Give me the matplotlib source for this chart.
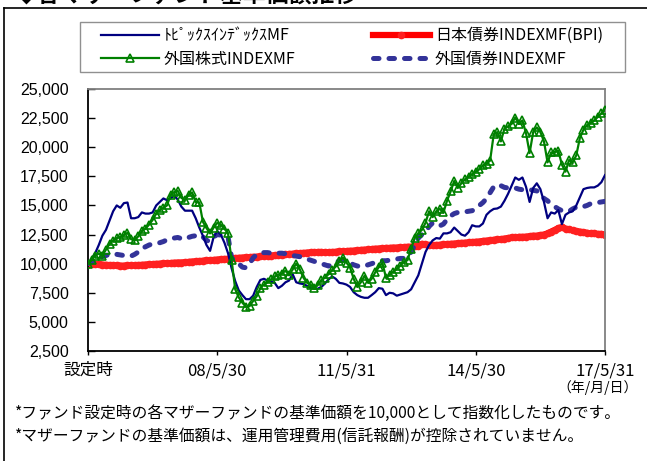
import matplotlib
matplotlib.use("Agg")
import matplotlib.pyplot as plt
from matplotlib.lines import Line2D
from matplotlib.patches import Rectangle
import numpy as np

plt.rcParams['font.family'] = ['Noto Sans CJK JP', 'DejaVu Sans']

# monthly index from inception (設定時) to 17/5/31
tick_pos = [0, 36, 72, 108, 144]
tick_labels = ['設定時', '08/5/30', '11/5/31', '14/5/30', '17/5/31']
y_ticks = [2500, 5000, 7500, 10000, 12500, 15000, 17500, 20000, 22500, 25000]

names = ['ﾄﾋﾟｯｸｽｲﾝﾃﾞｯｸｽMF', '外国株式INDEXMF', '日本債券INDEXMF(BPI)', '外国債券INDEXMF']

topix = [
    10000, 10400, 10900, 11600, 12400, 12900, 13700, 14500, 15000, 14800,
    15200, 15250, 13900, 13900, 14000, 14400, 14300, 14300, 14400, 15000,
    15300, 15600, 15450, 15600, 15850, 15500, 14900, 14550, 14550, 14550,
    13900, 13100, 12400, 11600, 11100, 12300, 12800, 12500, 11800, 10900,
    9600, 8500, 7700, 7300, 6950, 6950, 7250, 8000, 8600, 8700,
    8550, 8450, 8350, 7900, 8100, 8400, 8550, 9100, 8400, 8300,
    8250, 8100, 7900, 7850, 7850, 8000, 8300, 8650, 8900, 8700,
    8350, 8300, 8200, 8000, 7550, 7300, 7150, 7070, 7070, 7300,
    7550, 7900, 7850, 7300, 7500, 7450, 7250, 7350, 7450, 7550,
    7800, 8400, 9000, 10000, 11000, 11600, 12000, 12200, 12150, 12600,
    12600, 12700, 13100, 12800, 12500, 12400, 12700, 13300, 13200, 13200,
    13450, 14200, 14500, 14700, 14740, 14900, 15400, 16000, 16700, 17400,
    17200, 17400, 16600, 15300, 16500, 16900, 16400, 15300, 13900, 14400,
    14300, 14600, 13400, 14200, 14400, 14500, 15000, 15700, 16400, 16500,
    16550, 16550, 16700, 17000, 17600,
]

foreign_stock = [
    10000, 10300, 10700, 10860, 10700, 11200, 11700, 11980, 12200, 12300,
    12450, 12650, 12100, 12000, 12350, 12800, 13000, 13350, 13750, 14300,
    14600, 14800, 15000, 15900, 16150, 16250, 15650, 15450, 15900, 16120,
    15300, 15260, 13600, 13050, 12600, 13100, 13500, 13350, 13000, 12600,
    10300, 7800, 7100, 6650, 6300, 6350, 6800, 7200, 7900, 8200,
    8400, 8650, 8900, 9050, 9150, 9400, 9000, 9500, 10000, 9500,
    8800, 8360, 8200, 7900, 8150, 8600, 8790, 9100, 9450, 9750,
    10200, 10520, 10100, 9660, 8700, 8000, 8400, 8950, 8360, 8700,
    9250, 9700, 10050, 8800, 9050, 9300, 9550, 9830, 10150, 10300,
    11300, 12200, 12600, 12900, 13500, 14500, 14000, 14500, 14700, 14400,
    15400, 16200, 17100, 16500, 16900, 17250, 17450, 17700, 17900, 18100,
    18450, 18600, 18850, 21100, 21300, 20500, 21600, 21800, 22000, 22550,
    22000, 22300, 21200, 19500, 21300, 21700, 21300, 20500, 18700, 19550,
    19600, 19700, 18500, 17900, 18900, 18700, 19300, 20800, 21500, 21900,
    22100, 22300, 22600, 22900, 23200,
]

japan_bond = [
    10000, 9980, 9950, 9950, 9920, 9900, 9880, 9850, 9850, 9830,
    9830, 9850, 9850, 9870, 9880, 9900, 9920, 9950, 9950, 9980,
    10000, 10020, 10050, 10050, 10080, 10100, 10100, 10120, 10150, 10180,
    10200, 10220, 10250, 10280, 10300, 10320, 10350, 10380, 10400, 10420,
    10450, 10480, 10500, 10520, 10550, 10560, 10580, 10600, 10620, 10650,
    10680, 10700, 10720, 10750, 10780, 10800, 10830, 10850, 10880, 10900,
    10920, 10950, 10970, 10980, 11000, 11000, 10980, 10980, 11000, 11020,
    11050, 11050, 11080, 11100, 11120, 11150, 11180, 11200, 11220, 11250,
    11280, 11300, 11320, 11350, 11350, 11380, 11380, 11400, 11420, 11450,
    11450, 11500, 11550, 11700, 11650, 11600, 11580, 11600, 11620, 11650,
    11680, 11700, 11720, 11750, 11780, 11800, 11820, 11850, 11880, 11900,
    11950, 11980, 12000, 12050, 12080, 12100, 12150, 12200, 12250, 12250,
    12300, 12300, 12320, 12350, 12400, 12400, 12450, 12500, 12600, 12750,
    12900, 13050, 13150, 13000, 12950, 12850, 12800, 12750, 12700, 12650,
    12600, 12600, 12550, 12550, 12500,
]

foreign_bond = [
    10000, 10150, 10300, 10450, 10600, 10700, 10800, 10850, 10800, 10750,
    10700, 10650, 10650, 10800, 11000, 11300, 11450, 11600, 11700, 11750,
    11800, 11900, 12050, 12150, 12200, 12250, 12150, 12100, 12250, 12350,
    12400, 12500, 12300, 12000, 11900, 12300, 12500, 12450, 12400, 12300,
    10500, 10200, 10000, 9700, 9650, 10000, 10500, 10800, 10900, 10950,
    10950, 10900, 10850, 10900, 10900, 10850, 10750, 10700, 10650, 10600,
    10500, 10400, 10300, 10200, 10100, 10000, 9900, 9800, 9900, 10100,
    10250, 10300, 10200, 10050, 9900, 9800, 9750, 9800, 9900, 10000,
    10100, 10200, 10250, 10250, 10300, 10350, 10400, 10450, 10450, 10600,
    11000, 11600, 12200, 12500, 12700, 13200, 13500, 13400, 13250, 13400,
    13800, 14100, 14300, 14400, 14450, 14450, 14500, 14550, 14700, 15000,
    15250, 15600, 16100, 16600, 16800, 16700, 16550, 16500, 16550, 16500,
    16400, 16350, 16400, 16350, 16300, 16250, 16000, 15600, 15400, 15100,
    14900, 14700, 14550, 14500, 14500, 14700, 14850, 14800, 14900, 15000,
    15150, 15200, 15250, 15300, 15350,
]

W, H = 647, 461
fig = plt.figure(figsize=(W / 100, H / 100), dpi=100)

# plot area in pixels: x 88..605, y 89..351
ax = fig.add_axes([88 / W, 1 - 351 / H, (605 - 88) / W, (351 - 89) / H])
x = np.arange(len(topix))

ax.plot(x, japan_bond, color='#ff0000', lw=4.5, marker='o', ms=4.5,
        mec='#ff2020', mfc='#ff2020', label=names[2], zorder=2)
ax.plot(x, foreign_bond, color='#333399', lw=3.6, dashes=(1.1, 2.0),
        dash_capstyle='round', label=names[3], zorder=3)
ax.plot(x, topix, color='#000080', lw=1.6, label=names[0], zorder=4)
ax.plot(x, foreign_stock, color='#008000', lw=1.6, marker='^', ms=5.5,
        mfc='none', mec='#008000', mew=1.2, label=names[1], zorder=5)

ax.set_xlim(0, 144)
ax.set_ylim(2500, 25000)
ax.set_yticks(y_ticks)
ax.set_yticklabels([f'{v:,}' for v in y_ticks], family='Liberation Sans', fontsize=11.5)
ax.set_xticks(tick_pos)
ax.set_xticklabels(tick_labels, fontsize=12)
ax.tick_params(axis='y', direction='in', length=5, width=1, pad=14)
ax.tick_params(axis='x', direction='out', length=3, width=1, pad=5)

for side in ['top', 'right']:
    ax.spines[side].set_color('#808080')
    ax.spines[side].set_linewidth(1.3)
for side in ['left', 'bottom']:
    ax.spines[side].set_color('black')
    ax.spines[side].set_linewidth(1.3)

# legend box drawn by hand, entries placed without their own frame
fig.add_artist(Rectangle((80 / W, 1 - 72 / H), (625 - 80) / W, 50 / H,
                         transform=fig.transFigure, fill=False,
                         edgecolor='#909090', lw=1.0))
handles, labels = ax.get_legend_handles_labels()
order = [2, 3, 0, 1]
leg = fig.legend([handles[i] for i in order], [labels[i] for i in order],
                 loc='upper left', bbox_to_anchor=(98 / W, 1 - 24 / H),
                 ncol=2, fontsize=11.5, frameon=False,
                 handlelength=3.6, handletextpad=0.3,
                 columnspacing=4.85, borderpad=0.2, labelspacing=0.4,
                 borderaxespad=0)

# outer frame (left and top edges visible)
fig.add_artist(Line2D([3.5 / W, 3.5 / W], [0, 1 - 8.5 / H], color='black', lw=1.2))
fig.add_artist(Line2D([3.5 / W, 1], [1 - 8.5 / H, 1 - 8.5 / H], color='black', lw=1.2))

# title, mostly cut off at the top
fig.text(15 / W, 1 - 2.5 / H, '◆各マザーファンド基準価額推移', fontsize=16.5,
         fontweight='bold', va='baseline', ha='left')

fig.text(598 / W, 1 - 388 / H, '（年/月/日）', fontsize=10, ha='center', va='center')
fig.text(15 / W, 1 - 413 / H,
         '*ファンド設定時の各マザーファンドの基準価額を10,000として指数化したものです。',
         fontsize=11.3, ha='left', va='center')
fig.text(15 / W, 1 - 436 / H,
         '*マザーファンドの基準価額は、運用管理費用(信託報酬)が控除されていません。',
         fontsize=11.3, ha='left', va='center')

fig.savefig('out.png', dpi=100)
